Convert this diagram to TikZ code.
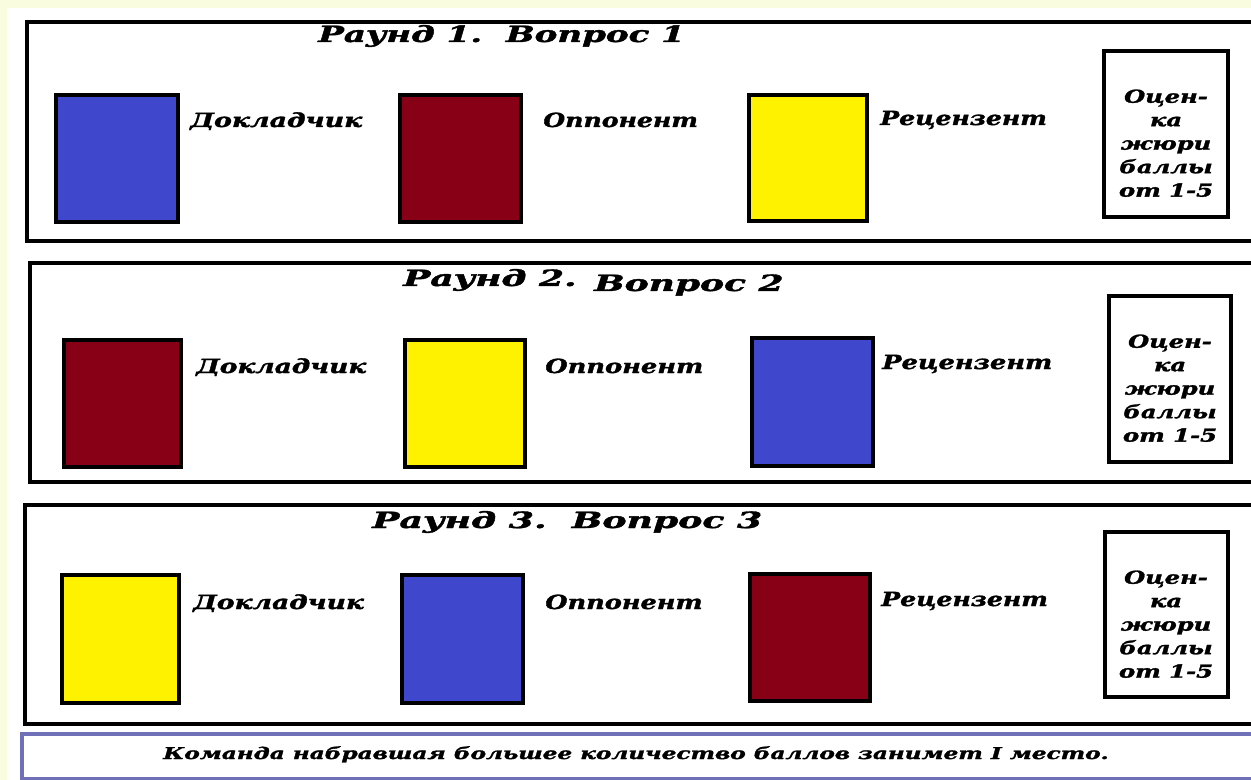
\documentclass[tikz,border=0pt]{standalone}
\usepackage{fontspec}
\setmainfont{DejaVu Serif}[BoldItalicFeatures={FakeBold=1.5}]
\usetikzlibrary{fit}
\definecolor{cblue}{RGB}{63,72,204}
\definecolor{cred}{RGB}{136,0,21}
\definecolor{cyel}{RGB}{255,242,0}
\definecolor{bgy}{RGB}{250,252,224}
\definecolor{barc}{RGB}{112,112,184}
\newcommand\wfit[2]{\resizebox{#1}{\height}{#2}}
\begin{document}
\begin{tikzpicture}[x=0.75pt,y=-0.75pt,
  card/.style={draw=black,line width=2.4pt,inner sep=0pt},
  panel/.style={draw=black,line width=2.4pt,inner sep=0pt},
  jury/.style={draw=black,line width=2.4pt,inner sep=0pt,fill=white},
  lbl/.style={anchor=base west,inner sep=0pt,font=\fontsize{14.6}{17}\selectfont\bfseries\itshape},
  ttl/.style={anchor=base west,inner sep=0pt,font=\fontsize{16.8}{19}\selectfont\bfseries\itshape},
  jtxt/.style={inner sep=0pt,font=\fontsize{13.4}{17.6}\selectfont\bfseries\itshape},
  btxt/.style={anchor=base west,inner sep=0pt,font=\fontsize{12.2}{14}\selectfont\bfseries\itshape},
]
\useasboundingbox (0,0) rectangle (1251,780);
\clip (0,0) rectangle (1251,780);
\fill[bgy] (0,0) rectangle (1251,780);
\fill[white] (7,8) rectangle (1251,780);

% panels
\node[panel, fit={(27,22) (1268,241)}] (p1) {};
\node[panel, fit={(30,263) (1268,482)}] (p2) {};
\node[panel, fit={(25,505) (1268,724)}] (p3) {};
\node[draw=barc, line width=2.4pt, fill=white, inner sep=0pt, fit={(22,734) (1268,779)}] (bar) {};

% round 1
\node[ttl] (t1) at (318,42) {\wfit{275pt}{Раунд 1.\ \ Вопрос 1}};
\node[card, fill=cblue, fit={(56,95) (178,222)}] (r1a) {};
\node[card, fill=cred, fit={(400,95) (521,222)}] (r1b) {};
\node[card, fill=cyel, fit={(749,95) (867,221)}] (r1c) {};
\node[lbl] (l1a) at (190,127) {\wfit{129pt}{Докладчик}};
\node[lbl] (l1b) at (543,127) {\wfit{116pt}{Оппонент}};
\node[lbl] (l1c) at (880,125) {\wfit{125pt}{Рецензент}};
\node[jury, fit={(1104,51) (1228,217)}] (j1) {};
\node[jtxt] (jt1) at (1166,145) {\wfit{70.5pt}{\begin{tabular}{@{}c@{}}Оцен-\\ка\\жюри\\баллы\\от 1-5\end{tabular}}};

% round 2
\node[ttl] (t2a) at (403,286) {\wfit{130pt}{Раунд 2.}};
\node[ttl] (t2b) at (594,291) {\wfit{142pt}{Вопрос 2}};
\node[card, fill=cred, fit={(64,340) (181,467)}] (r2a) {};
\node[card, fill=cyel, fit={(405,340) (525,467)}] (r2b) {};
\node[card, fill=cblue, fit={(752,338) (873,466)}] (r2c) {};
\node[lbl] (l2a) at (196,373) {\wfit{127.5pt}{Докладчик}};
\node[lbl] (l2b) at (545,373) {\wfit{118.5pt}{Оппонент}};
\node[lbl] (l2c) at (882,369) {\wfit{127.5pt}{Рецензент}};
\node[jury, fit={(1109,296) (1231,462)}] (j2) {};
\node[jtxt] (jt2) at (1170,390) {\wfit{70.5pt}{\begin{tabular}{@{}c@{}}Оцен-\\ка\\жюри\\баллы\\от 1-5\end{tabular}}};

% round 3
\node[ttl] (t3) at (372,528) {\wfit{292.5pt}{Раунд 3.\ \ Вопрос 3}};
\node[card, fill=cyel, fit={(62,575) (179,703)}] (r3a) {};
\node[card, fill=cblue, fit={(402,575) (523,703)}] (r3b) {};
\node[card, fill=cred, fit={(750,574) (870,701)}] (r3c) {};
\node[lbl] (l3a) at (193,609) {\wfit{128pt}{Докладчик}};
\node[lbl] (l3b) at (545,609) {\wfit{118pt}{Оппонент}};
\node[lbl] (l3c) at (881,606) {\wfit{125pt}{Рецензент}};
\node[jury, fit={(1105,532) (1228,697)}] (j3) {};
\node[jtxt] (jt3) at (1166,626) {\wfit{70.5pt}{\begin{tabular}{@{}c@{}}Оцен-\\ка\\жюри\\баллы\\от 1-5\end{tabular}}};

% bottom
\node[btxt] (bt) at (163,759) {\wfit{709pt}{Команда набравшая большее количество баллов занимет I место.}};
\end{tikzpicture}
\end{document}
